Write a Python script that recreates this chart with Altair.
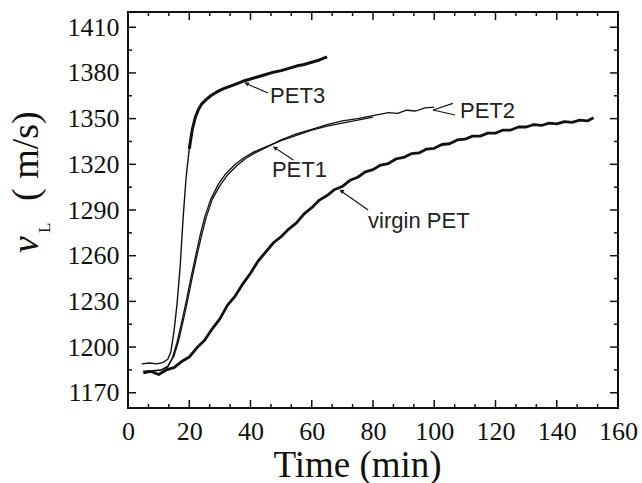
import altair as alt
import pandas as pd

# ---------------- data ----------------
virgin_t = [5, 7.5, 10, 12.5, 15, 17.5, 20, 22.5, 25, 27.5, 30, 32.5, 35, 37.5, 40,
            42.5, 45, 47.5, 50, 52.5, 55, 57.5, 60, 62.5, 65, 67.5, 70, 72.5, 75, 77.5,
            80, 82.5, 85, 87.5, 90, 92.5, 95, 97.5, 100, 102.5, 105, 107.5, 110, 112.5,
            115, 117.5, 120, 122.5, 125, 127.5, 130, 132.5, 135, 137.5, 140, 142.5, 145,
            147.5, 150, 152]
virgin_v = [1183, 1184, 1182, 1185, 1186.5, 1190.5, 1193.5, 1199.5, 1204.5, 1212, 1218.5,
            1227.5, 1233.5, 1241.5, 1248.5, 1256.5, 1262.5, 1268.5, 1272.5, 1277.5, 1281.5,
            1287.5, 1291.5, 1296.5, 1299.5, 1303.5, 1305.5, 1309.5, 1311.5, 1315, 1316.5,
            1319.5, 1320.5, 1323.5, 1324.5, 1327, 1327.5, 1330, 1330.5, 1333, 1333.5, 1336,
            1336.5, 1338.5, 1338.5, 1340.5, 1340.5, 1342.5, 1342.5, 1344.5, 1344.5, 1346,
            1345.5, 1347, 1346.5, 1348, 1347.5, 1349, 1348.5, 1350.5]

pet3_t = [4.5, 7, 9.5, 11.5, 13, 14, 15, 16, 17, 18, 19, 20, 21, 22, 23, 24, 25.5, 27, 29,
          31, 33, 35, 37.5, 40, 42.5, 45, 47.5, 50, 52.5, 55, 57.5, 60, 62.5, 65]
pet3_v = [1189, 1189.5, 1189, 1190, 1192, 1197, 1210, 1228, 1252, 1285, 1312, 1330, 1343,
          1351, 1356, 1359.5, 1362.5, 1365, 1367.5, 1369.5, 1371, 1372.5, 1374.5, 1376,
          1377.5, 1379, 1380.5, 1381.5, 1383, 1384.5, 1385.5, 1387, 1388.5, 1390.5]

pet1_t = [5, 8, 11, 13, 14.5, 16, 17.5, 19, 20.5, 22, 23.5, 25, 27, 29.5, 32, 35, 38, 41,
          45, 50, 55, 60, 65, 70, 75, 80]
pet1_v = [1184, 1184.5, 1185, 1187, 1193, 1203, 1216, 1230, 1245, 1259, 1273, 1285, 1297,
          1307, 1314, 1320, 1324.5, 1328, 1331.5, 1335.5, 1339, 1342.5, 1345, 1347, 1349,
          1351]

pet2_t = [5, 8, 11, 13, 15, 16.5, 18, 19.5, 21, 22.5, 24, 25.5, 27.5, 30, 32.5, 35.5, 38.5,
          41.5, 45, 50, 55, 60, 65, 70, 75, 80, 85, 88, 91, 94, 97, 100]
pet2_v = [1184, 1184, 1185, 1187.5, 1194, 1204, 1217, 1231, 1246, 1260, 1273, 1285, 1297,
          1306, 1313, 1319, 1324, 1327.5, 1331, 1336, 1340, 1343, 1346, 1348.5, 1350,
          1352, 1354, 1353.5, 1355.5, 1355, 1357, 1357.5]

x_major = [0, 20, 40, 60, 80, 100, 120, 140, 160]
x_minor = [6.67, 13.33, 26.67, 33.33, 46.67, 53.33, 66.67, 73.33, 86.67, 93.33,
           106.67, 113.33, 126.67, 133.33, 146.67, 153.33]
y_major = [1170, 1200, 1230, 1260, 1290, 1320, 1350, 1380, 1410]
y_minor = [1185, 1215, 1245, 1275, 1305, 1335, 1365, 1395]

label_text = ["PET3", "PET1", "PET2", "virgin PET"]
label_t = [46.4, 47.0, 108.4, 78.4]
label_v = [1365.0, 1316.3, 1355.0, 1282.8]

lead_t1 = [38.2, 47.4, 99.6, 99.6, 69.2]
lead_v1 = [1373.4, 1331.6, 1355.7, 1355.7, 1303.0]
lead_t2 = [45.7, 54.0, 106.1, 106.8, 78.4]
lead_v2 = [1366.8, 1322.8, 1360.0, 1352.4, 1290.0]

arrow_t = [38.9, 48.2, 69.9]
arrow_v = [1372.8, 1330.5, 1302.2]
arrow_dir = [293.5, 303.7, 305.5]

# ---------------- layout ----------------
W, H = 490, 396
INK = "#111111"
SERIF = "Liberation Serif, Times New Roman, Times, serif"
SANS = "Liberation Sans, Arial, Helvetica, sans-serif"

xscale = alt.Scale(domain=[0, 160], nice=False, zero=False)
yscale = alt.Scale(domain=[1160, 1420], nice=False, zero=False)

X = alt.X("t:Q", scale=xscale,
          axis=alt.Axis(values=x_major, format="d", ticks=False, domain=False, grid=False,
                        labelFont=SERIF, labelFontSize=26, labelColor=INK, labelPadding=10,
                        labelFlush=False, labelOverlap=False,
                        title="Time (min)", titleFont=SERIF, titleFontSize=37,
                        titleFontWeight="normal", titleColor=INK, titleX=229, titleY=68,
                        titleAlign="center", titleBaseline="alphabetic"))
Y = alt.Y("v:Q", scale=yscale,
          axis=alt.Axis(values=y_major, format="d", ticks=False, domain=False, grid=False,
                        labelFont=SERIF, labelFontSize=26, labelColor=INK, labelPadding=9,
                        labelFlush=False, labelOverlap=False, title=None))


def line(ts, vs, width):
    df = pd.DataFrame({"t": ts, "v": vs})
    return alt.Chart(df).mark_line(color=INK, strokeWidth=width,
                                   strokeJoin="round").encode(x=X, y=Y, order="t:Q")


virgin = line(virgin_t, virgin_v, 2.8)
pet3_rise = line(pet3_t[:12], pet3_v[:12], 1.4)
pet3_top = line(pet3_t[11:], pet3_v[11:], 3.0)
pet1 = line(pet1_t, pet1_v, 1.3)
pet2 = line(pet2_t, pet2_v, 1.3)

xmaj = pd.DataFrame({"t": x_major})
xmin = pd.DataFrame({"t": x_minor})
ymaj = pd.DataFrame({"v": y_major})
ymin = pd.DataFrame({"v": y_minor})

tick_layers = [
    alt.Chart(xmaj).mark_rule(color=INK, strokeWidth=1.5).encode(x=X, y=alt.value(H), y2=alt.value(H - 8)),
    alt.Chart(xmin).mark_rule(color=INK, strokeWidth=1.5).encode(x=X, y=alt.value(H), y2=alt.value(H - 4)),
    alt.Chart(xmaj).mark_rule(color=INK, strokeWidth=1.5).encode(x=X, y=alt.value(0), y2=alt.value(8)),
    alt.Chart(xmin).mark_rule(color=INK, strokeWidth=1.5).encode(x=X, y=alt.value(0), y2=alt.value(4)),
    alt.Chart(ymaj).mark_rule(color=INK, strokeWidth=1.5).encode(y=Y, x=alt.value(0), x2=alt.value(8)),
    alt.Chart(ymin).mark_rule(color=INK, strokeWidth=1.5).encode(y=Y, x=alt.value(0), x2=alt.value(4)),
    alt.Chart(ymaj).mark_rule(color=INK, strokeWidth=1.5).encode(y=Y, x=alt.value(W), x2=alt.value(W - 8)),
    alt.Chart(ymin).mark_rule(color=INK, strokeWidth=1.5).encode(y=Y, x=alt.value(W), x2=alt.value(W - 4)),
]

labels_df = pd.DataFrame({"txt": label_text, "t": label_t, "v": label_v})
labels = alt.Chart(labels_df).mark_text(font=SANS, fontSize=22, color="#222222",
                                        align="left", baseline="middle").encode(
    x=X, y=Y, text="txt:N")

lead_df = pd.DataFrame({"t": lead_t1, "v": lead_v1, "t2": lead_t2, "v2": lead_v2})
leaders = alt.Chart(lead_df).mark_rule(color=INK, strokeWidth=1.1).encode(
    x=X, y=Y, x2="t2:Q", y2="v2:Q")

arrow_df = pd.DataFrame({"t": arrow_t, "v": arrow_v, "a": arrow_dir})
arrows = alt.Chart(arrow_df).mark_point(shape="triangle", filled=True, color=INK,
                                        size=22, opacity=1).encode(
    x=X, y=Y, angle=alt.Angle("a:Q", scale=None))

# y-axis title: italic v with subscript L, then ( m/s)
ytitle_v = alt.Chart(pd.DataFrame({"s": ["v"]})).mark_text(
    font=SERIF, fontSize=38, fontStyle="italic", color=INK, angle=270,
    align="left", baseline="alphabetic").encode(
    text="s:N", x=alt.value(-90), y=alt.value(241))
ytitle_L = alt.Chart(pd.DataFrame({"s": ["L"]})).mark_text(
    font=SERIF, fontSize=17, color=INK, angle=270,
    align="left", baseline="alphabetic").encode(
    text="s:N", x=alt.value(-78), y=alt.value(221))
ytitle_u = alt.Chart(pd.DataFrame({"s": ["( m/s)"]})).mark_text(
    font=SERIF, fontSize=38, color=INK, angle=270,
    align="left", baseline="alphabetic").encode(
    text="s:N", x=alt.value(-90), y=alt.value(189))

chart = alt.layer(
    virgin, pet3_rise, pet3_top, pet1, pet2, *tick_layers, leaders, arrows, labels,
    ytitle_v, ytitle_L, ytitle_u
).properties(
    width=W, height=H,
    autosize=alt.AutoSizeParams(type="none"),
    padding={"left": 128, "top": 12, "right": 24, "bottom": 75},
    background="white",
).configure_view(
    stroke=INK, strokeWidth=2
)

chart.save("out.html", embed_options={"renderer": "svg", "actions": False})
